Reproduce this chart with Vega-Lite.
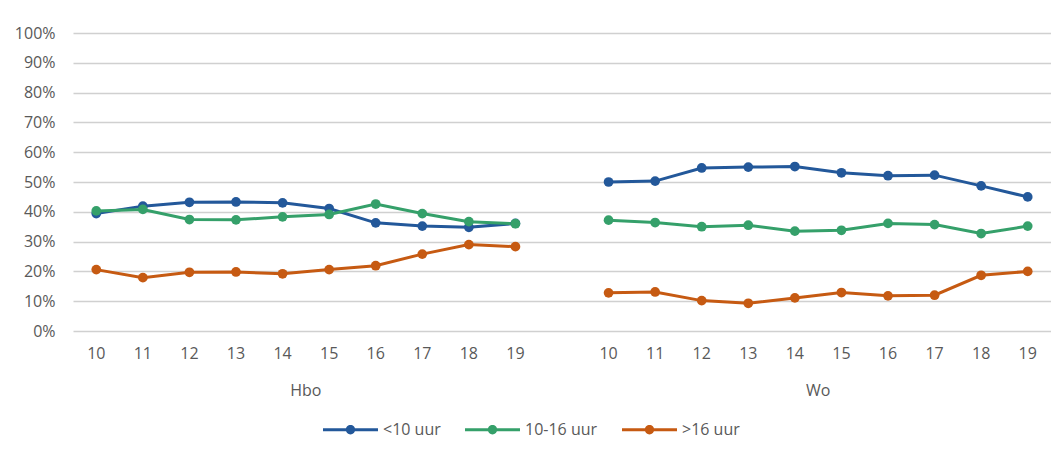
{
  "$schema": "https://vega.github.io/schema/vega-lite/v6.json",
  "width": 978,
  "height": 298,
  "autosize": "none",
  "padding": {"left": 73, "top": 33, "right": 0, "bottom": 126},
  "background": "white",
  "config": {
    "font": "Open Sans",
    "view": {"stroke": null},
    "axis": {"labelFont": "Open Sans", "labelFontSize": 16, "labelColor": "#595959", "title": null, "domain": false, "ticks": false}
  },
  "datasets": {
    "d": [
      {"k": "Hbo-10", "g": "Hbo", "c": "<10 uur", "v": 0.394},
      {"k": "Hbo-11", "g": "Hbo", "c": "<10 uur", "v": 0.419},
      {"k": "Hbo-12", "g": "Hbo", "c": "<10 uur", "v": 0.432},
      {"k": "Hbo-13", "g": "Hbo", "c": "<10 uur", "v": 0.433},
      {"k": "Hbo-14", "g": "Hbo", "c": "<10 uur", "v": 0.430},
      {"k": "Hbo-15", "g": "Hbo", "c": "<10 uur", "v": 0.411},
      {"k": "Hbo-16", "g": "Hbo", "c": "<10 uur", "v": 0.363},
      {"k": "Hbo-17", "g": "Hbo", "c": "<10 uur", "v": 0.352},
      {"k": "Hbo-18", "g": "Hbo", "c": "<10 uur", "v": 0.348},
      {"k": "Hbo-19", "g": "Hbo", "c": "<10 uur", "v": 0.361},
      {"k": "Hbo-10", "g": "Hbo", "c": "10-16 uur", "v": 0.403},
      {"k": "Hbo-11", "g": "Hbo", "c": "10-16 uur", "v": 0.408},
      {"k": "Hbo-12", "g": "Hbo", "c": "10-16 uur", "v": 0.374},
      {"k": "Hbo-13", "g": "Hbo", "c": "10-16 uur", "v": 0.373},
      {"k": "Hbo-14", "g": "Hbo", "c": "10-16 uur", "v": 0.383},
      {"k": "Hbo-15", "g": "Hbo", "c": "10-16 uur", "v": 0.391},
      {"k": "Hbo-16", "g": "Hbo", "c": "10-16 uur", "v": 0.426},
      {"k": "Hbo-17", "g": "Hbo", "c": "10-16 uur", "v": 0.394},
      {"k": "Hbo-18", "g": "Hbo", "c": "10-16 uur", "v": 0.367},
      {"k": "Hbo-19", "g": "Hbo", "c": "10-16 uur", "v": 0.360},
      {"k": "Hbo-10", "g": "Hbo", "c": ">16 uur", "v": 0.206},
      {"k": "Hbo-11", "g": "Hbo", "c": ">16 uur", "v": 0.179},
      {"k": "Hbo-12", "g": "Hbo", "c": ">16 uur", "v": 0.197},
      {"k": "Hbo-13", "g": "Hbo", "c": ">16 uur", "v": 0.198},
      {"k": "Hbo-14", "g": "Hbo", "c": ">16 uur", "v": 0.192},
      {"k": "Hbo-15", "g": "Hbo", "c": ">16 uur", "v": 0.206},
      {"k": "Hbo-16", "g": "Hbo", "c": ">16 uur", "v": 0.219},
      {"k": "Hbo-17", "g": "Hbo", "c": ">16 uur", "v": 0.258},
      {"k": "Hbo-18", "g": "Hbo", "c": ">16 uur", "v": 0.290},
      {"k": "Hbo-19", "g": "Hbo", "c": ">16 uur", "v": 0.283},
      {"k": "Wo-10", "g": "Wo", "c": "<10 uur", "v": 0.500},
      {"k": "Wo-11", "g": "Wo", "c": "<10 uur", "v": 0.503},
      {"k": "Wo-12", "g": "Wo", "c": "<10 uur", "v": 0.547},
      {"k": "Wo-13", "g": "Wo", "c": "<10 uur", "v": 0.550},
      {"k": "Wo-14", "g": "Wo", "c": "<10 uur", "v": 0.552},
      {"k": "Wo-15", "g": "Wo", "c": "<10 uur", "v": 0.531},
      {"k": "Wo-16", "g": "Wo", "c": "<10 uur", "v": 0.521},
      {"k": "Wo-17", "g": "Wo", "c": "<10 uur", "v": 0.523},
      {"k": "Wo-18", "g": "Wo", "c": "<10 uur", "v": 0.487},
      {"k": "Wo-19", "g": "Wo", "c": "<10 uur", "v": 0.450},
      {"k": "Wo-10", "g": "Wo", "c": "10-16 uur", "v": 0.372},
      {"k": "Wo-11", "g": "Wo", "c": "10-16 uur", "v": 0.364},
      {"k": "Wo-12", "g": "Wo", "c": "10-16 uur", "v": 0.350},
      {"k": "Wo-13", "g": "Wo", "c": "10-16 uur", "v": 0.355},
      {"k": "Wo-14", "g": "Wo", "c": "10-16 uur", "v": 0.335},
      {"k": "Wo-15", "g": "Wo", "c": "10-16 uur", "v": 0.338},
      {"k": "Wo-16", "g": "Wo", "c": "10-16 uur", "v": 0.361},
      {"k": "Wo-17", "g": "Wo", "c": "10-16 uur", "v": 0.357},
      {"k": "Wo-18", "g": "Wo", "c": "10-16 uur", "v": 0.327},
      {"k": "Wo-19", "g": "Wo", "c": "10-16 uur", "v": 0.352},
      {"k": "Wo-10", "g": "Wo", "c": ">16 uur", "v": 0.128},
      {"k": "Wo-11", "g": "Wo", "c": ">16 uur", "v": 0.131},
      {"k": "Wo-12", "g": "Wo", "c": ">16 uur", "v": 0.102},
      {"k": "Wo-13", "g": "Wo", "c": ">16 uur", "v": 0.093},
      {"k": "Wo-14", "g": "Wo", "c": ">16 uur", "v": 0.111},
      {"k": "Wo-15", "g": "Wo", "c": ">16 uur", "v": 0.129},
      {"k": "Wo-16", "g": "Wo", "c": ">16 uur", "v": 0.118},
      {"k": "Wo-17", "g": "Wo", "c": ">16 uur", "v": 0.120},
      {"k": "Wo-18", "g": "Wo", "c": ">16 uur", "v": 0.187},
      {"k": "Wo-19", "g": "Wo", "c": ">16 uur", "v": 0.200}
    ],
    "groups": [
      {"k": "Hbo-14", "g": "Hbo"},
      {"k": "Wo-14", "g": "Wo"}
    ]
  },
  "layer": [
    {
      "data": {"name": "d"},
      "mark": {"type": "line", "strokeWidth": 3},
      "encoding": {
        "x": {
          "field": "k", "type": "nominal",
          "scale": {"type": "band", "paddingInner": 0, "paddingOuter": 0,
            "domain": ["Hbo-10","Hbo-11","Hbo-12","Hbo-13","Hbo-14","Hbo-15","Hbo-16","Hbo-17","Hbo-18","Hbo-19","gap","Wo-10","Wo-11","Wo-12","Wo-13","Wo-14","Wo-15","Wo-16","Wo-17","Wo-18","Wo-19"]},
          "axis": {"grid": false, "labelAngle": 0, "labelPadding": 14, "labelExpr": "datum.value == 'gap' ? '' : split(datum.value, '-')[1]"}
        },
        "y": {
          "field": "v", "type": "quantitative",
          "scale": {"domain": [0, 1], "nice": false},
          "axis": {"values": [0, 0.1, 0.2, 0.3, 0.4, 0.5, 0.6, 0.7, 0.8, 0.9, 1], "labelOverlap": false, "format": ".0%", "grid": true, "gridColor": "#d0d0d0", "gridWidth": 1.5, "labelPadding": 18}
        },
        "color": {
          "field": "c", "type": "nominal",
          "scale": {"domain": ["<10 uur", "10-16 uur", ">16 uur"], "range": ["#23589A", "#35A06A", "#C65A12"]},
          "legend": {
            "title": null, "orient": "none", "direction": "horizontal",
            "legendX": 250, "legendY": 369,
            "symbolType": "M-1,-0.055L1,-0.055L1,0.055L-1,0.055Z M-0.17,0 A0.17,0.17 0 1 1 0.17,0 A0.17,0.17 0 1 1 -0.17,0Z",
            "symbolSize": 3025, "symbolStrokeWidth": 0,
            "labelFont": "Open Sans", "labelFontSize": 16, "labelColor": "#595959", "labelOffset": 5, "columnPadding": 24,
            "encode": {"symbols": {"update": {"fill": {"scale": "color", "field": "value"}, "stroke": {"value": "transparent"}, "opacity": {"value": 1}}}}
          }
        },
        "detail": {"field": "g"}
      }
    },
    {
      "data": {"name": "d"},
      "mark": {"type": "point", "filled": true, "size": 95, "opacity": 1},
      "encoding": {
        "x": {"field": "k", "type": "nominal"},
        "y": {
          "field": "v", "type": "quantitative",
          "axis": {"values": [0, 0.1, 0.2, 0.3, 0.4, 0.5, 0.6, 0.7, 0.8, 0.9, 1], "labelOverlap": false, "format": ".0%", "grid": true, "gridColor": "#d0d0d0", "gridWidth": 1.5, "labelPadding": 18}
        },
        "color": {"field": "c", "type": "nominal"}
      }
    },
    {
      "data": {"name": "groups"},
      "mark": {"type": "text", "fontSize": 16, "font": "Open Sans", "color": "#595959", "baseline": "middle", "align": "center"},
      "encoding": {
        "x": {"field": "k", "type": "nominal", "bandPosition": 1},
        "y": {
          "datum": -0.203,
          "axis": {"values": [0, 0.1, 0.2, 0.3, 0.4, 0.5, 0.6, 0.7, 0.8, 0.9, 1], "labelOverlap": false, "format": ".0%", "grid": true, "gridColor": "#d0d0d0", "gridWidth": 1.5, "labelPadding": 18}
        },
        "text": {"field": "g"}
      }
    }
  ]
}
